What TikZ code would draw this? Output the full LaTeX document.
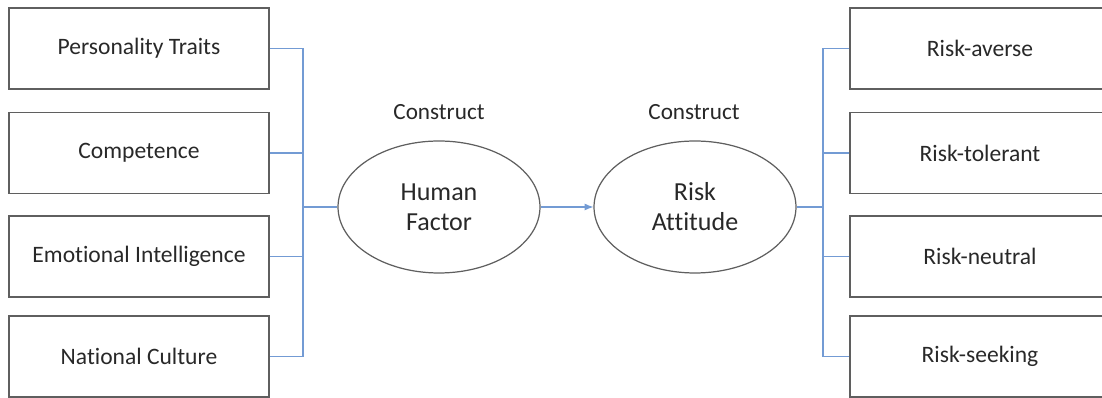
\documentclass[tikz,border=0pt]{standalone}
\usepackage{fontspec}
\setmainfont{Carlito}[Ligatures=NoCommon]
\usetikzlibrary{shapes.geometric,arrows.meta}

\definecolor{linkblue}{RGB}{115,155,212}
\definecolor{boxgray}{RGB}{95,95,95}
\definecolor{txtgray}{RGB}{40,40,40}

\tikzset{
	item/.style={draw=boxgray, line width=0.8pt, minimum width=5.2cm, minimum height=1.62cm, inner sep=0pt, text=txtgray, font=\fontsize{13.4}{15}\selectfont},
	construct/.style={draw=boxgray, line width=0.7pt, ellipse, minimum width=4.04cm, minimum height=2.64cm, inner sep=0pt, align=center, text=txtgray, font=\fontsize{14.8}{17}\selectfont},
	tag/.style={text=txtgray, font=\fontsize{13.2}{15}\selectfont},
	link/.style={draw=linkblue, line width=0.6pt}
}

\begin{document}
\begin{tikzpicture}[x=0.02cm, y=0.02cm]
	 		\clip (0,0) rectangle (1102,398);
	 		\useasboundingbox (0,0) rectangle (1102,398);

	 		% left column: human factor items
	 		\node[item] (pt) at(139, 349.5){Personality Traits};
	 		\node[item] (co) at(139, 245){Competence};
	 		\node[item] (ei) at(139, 141.5){Emotional Intelligence};
	 		\node[item] (nc) at(139, 41.5){National Culture};

	 		% the two constructs
	 		\node[construct] (hf) at(439, 191){Human\\Factor};
	 		\node[construct] (ra) at(695, 191){Risk\\Attitude};
	 		\node[tag] (hfc) at(439, 286){Construct};
	 		\node[tag] (rac) at(694, 286){Construct};

	 		% right column: risk attitude items
	 		\node[item] (av) at(980, 349.5){Risk-averse};
	 		\node[item] (to) at(980, 245){Risk-tolerant};
	 		\node[item] (ne) at(980, 141.5){Risk-neutral};
	 		\node[item] (se) at(980, 41.5){Risk-seeking};

	 		\coordinate (lbus) at(303, 191);
	 		\coordinate (rbus) at(823, 191);

	 		% left bus
	 		\draw[link] (pt.east) -- (pt.east -| lbus) -- (nc.east -| lbus) -- (nc.east);
	 		\draw[link] (co.east) -- (co.east -| lbus);
	 		\draw[link] (ei.east) -- (ei.east -| lbus);
	 		\draw[link] (lbus) -- (hf.west);

	 		\draw[link, -{Latex[length=5pt, width=4pt]}] (hf.east) -- (ra.west);

	 		% right bus
	 		\draw[link] (av.west) -- (av.west -| rbus) -- (se.west -| rbus) -- (se.west);
	 		\draw[link] (to.west) -- (to.west -| rbus);
	 		\draw[link] (ne.west) -- (ne.west -| rbus);
	 		\draw[link] (ra.east) -- (rbus);
	 	\end{tikzpicture}
\end{document}
